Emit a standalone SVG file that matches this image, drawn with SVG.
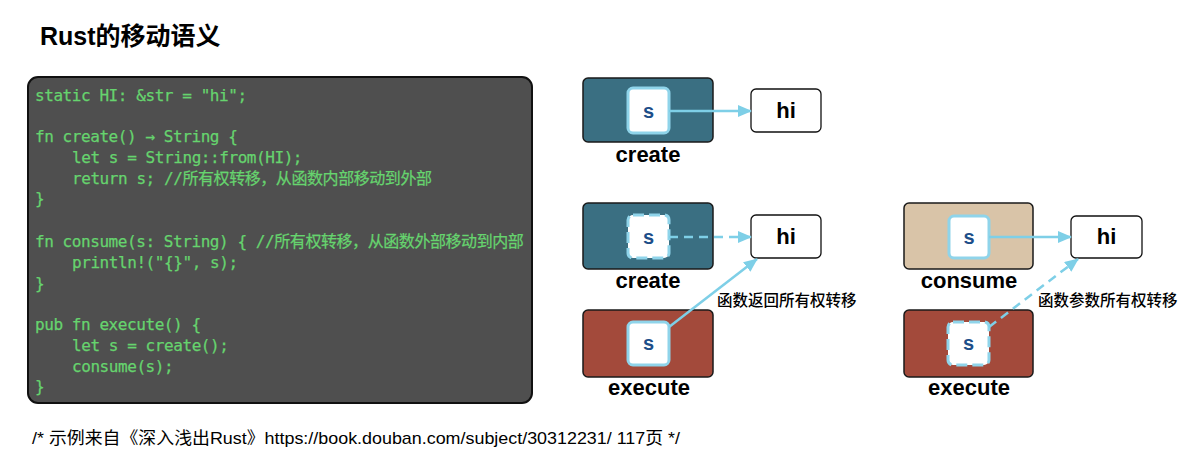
<svg xmlns="http://www.w3.org/2000/svg" width="1200" height="475" viewBox="0 0 1200 475">
<style>
.title{font-family:"Liberation Sans","Noto Sans CJK SC",sans-serif;font-weight:bold;font-size:25px;fill:#000}
.code{font-family:"DejaVu Sans Mono","Noto Sans CJK SC",monospace;font-size:16px;letter-spacing:-0.43px;fill:#66d46e;stroke:#66d46e;stroke-width:0.25}
.foot{font-family:"Liberation Sans","Noto Sans CJK SC",sans-serif;font-size:17px;fill:#000}
.frame{stroke:#1a1a1a;stroke-width:1.5}
.create{fill:#3a6f82}
.execute{fill:#a34a3b}
.consume{fill:#d9c4a8}
.cell{fill:#fff;stroke:#8fd4ea;stroke-width:3}
.dashed{stroke-dasharray:11 5}
.sv{font-family:"Liberation Sans",sans-serif;font-weight:bold;font-size:20px;fill:#1d4e89;text-anchor:middle}
.hi{fill:#fff;stroke:#111;stroke-width:1.3}
.hit{font-family:"Liberation Sans",sans-serif;font-weight:bold;font-size:22px;fill:#000;text-anchor:middle}
.lbl{font-family:"Liberation Sans",sans-serif;font-weight:bold;font-size:22px;fill:#000;text-anchor:middle}
.note{font-family:"Noto Sans CJK SC",sans-serif;font-weight:500;font-size:15.5px;fill:#000}
.conn{stroke:#7ecfe7;stroke-width:2.5;fill:none}
.dash{stroke-dasharray:9 6}
</style>
<defs>
<marker id="ah" viewBox="0 0 14 12" refX="13" refY="6" markerWidth="14" markerHeight="12" markerUnits="userSpaceOnUse" orient="auto">
<path d="M0,0 L14,6 L0,12 Z" fill="#7ecfe7"/>
</marker>
</defs>

<text class="title" x="40" y="45">Rust的移动语义</text>

<g id="code">
<rect x="28" y="77" width="504" height="326" rx="10" fill="#4f4f4f" stroke="#111" stroke-width="2"/>
<text class="code">
<tspan x="35" y="100.5">static HI: &amp;str = "hi";</tspan>
<tspan x="35" y="142">fn create() → String {</tspan>
<tspan x="72" y="162.8">let s = String::from(HI);</tspan>
<tspan x="72" y="183.6">return s; //所有权转移，从函数内部移动到外部</tspan>
<tspan x="35" y="204.4">}</tspan>
<tspan x="35" y="247">fn consume(s: String) { //所有权转移，从函数外部移动到内部</tspan>
<tspan x="72" y="268">println!("{}", s);</tspan>
<tspan x="35" y="288.8">}</tspan>
<tspan x="35" y="330.4">pub fn execute() {</tspan>
<tspan x="72" y="351.2">let s = create();</tspan>
<tspan x="72" y="372">consume(s);</tspan>
<tspan x="35" y="391.5">}</tspan>
</text>
</g>

<g id="create1">
<rect class="create frame" x="583" y="78" width="130" height="64" rx="5"/>
<rect class="cell" x="628" y="88" width="41" height="45" rx="5"/>
<text class="sv" x="648.5" y="118">s</text>
<text class="lbl" x="648" y="162">create</text>
</g>
<g id="hi1">
<rect class="hi" x="751" y="89" width="70" height="43" rx="5"/>
<text class="hit" x="786" y="118">hi</text>
</g>

<g id="create2">
<rect class="create frame" x="583" y="203" width="130" height="66" rx="5"/>
<rect class="cell dashed" x="628" y="215" width="41" height="43" rx="5"/>
<text class="sv" x="648.5" y="244">s</text>
<text class="lbl" x="648" y="288">create</text>
</g>
<g id="hi2">
<rect class="hi" x="751" y="215" width="70" height="43" rx="5"/>
<text class="hit" x="786" y="244">hi</text>
</g>
<g id="execute1">
<rect class="execute frame" x="583" y="310" width="130" height="67" rx="5"/>
<rect class="cell" x="628" y="322" width="41" height="43" rx="5"/>
<text class="sv" x="648.5" y="350">s</text>
<text class="lbl" x="649" y="395">execute</text>
</g>

<g id="consume">
<rect class="consume frame" x="904" y="203" width="129" height="66" rx="5"/>
<rect class="cell" x="949" y="216" width="40" height="42" rx="5"/>
<text class="sv" x="969" y="244">s</text>
<text class="lbl" x="969" y="288">consume</text>
</g>
<g id="hi3">
<rect class="hi" x="1071" y="216" width="71" height="42" rx="5"/>
<text class="hit" x="1106.5" y="244">hi</text>
</g>
<g id="execute2">
<rect class="execute frame" x="904" y="310" width="129" height="67" rx="5"/>
<rect class="cell dashed" x="948" y="322" width="41" height="43" rx="5"/>
<text class="sv" x="968.5" y="350">s</text>
<text class="lbl" x="969" y="395">execute</text>
</g>

<g id="connectors">
<line class="conn" x1="669" y1="111" x2="751" y2="111" marker-end="url(#ah)"/>
<line class="conn dash" x1="669" y1="237" x2="751" y2="237" marker-end="url(#ah)"/>
<line class="conn" x1="669" y1="327" x2="757" y2="259" marker-end="url(#ah)"/>
<line class="conn" x1="989" y1="237" x2="1071" y2="237" marker-end="url(#ah)"/>
<line class="conn dash" x1="989" y1="327" x2="1078" y2="259" marker-end="url(#ah)"/>
<text class="note" x="717" y="306">函数返回所有权转移</text>
<text class="note" x="1038" y="306">函数参数所有权转移</text>
</g>

<text class="foot" x="32" y="444" textLength="648" lengthAdjust="spacingAndGlyphs">/* 示例来自《深入浅出Rust》https://book.douban.com/subject/30312231/ 117页 */</text>
</svg>
